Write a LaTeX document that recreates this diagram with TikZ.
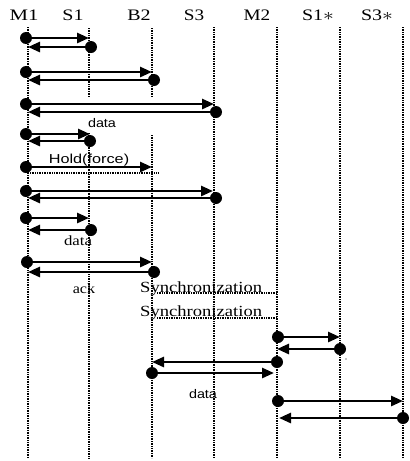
\documentclass[tikz,border=0pt]{standalone}
\usepackage{fontspec}
\usepackage{graphicx}
\setmainfont{Liberation Serif}
\newfontfamily\sansf{Liberation Sans}
\usetikzlibrary{arrows.meta}
\tikzset{
  life/.style={line width=1.3pt, dash pattern=on 1pt off 0.7pt},
  msg/.style={line width=2.7pt, -{Triangle[length=12pt,width=10pt]}},
  dotn/.style={circle, fill, inner sep=0pt, minimum size=12pt},
  hdr/.style={anchor=base, inner sep=0pt, font=\fontsize{16}{16}\selectfont},
  lbl/.style={anchor=base, inner sep=0pt},
  holdline/.style={line width=1.3pt, dash pattern=on 1pt off 0.7pt},
}
\begin{document}
\begin{tikzpicture}[x=1pt,y=-1pt]
\useasboundingbox[fill=white] (0,0) rectangle (410,461);
% headers
\node[hdr] (hM1) at (24,20) {\scalebox{1.3}[1]{M1}};
\node[hdr] (hS1) at (73,20) {\scalebox{1.25}[1]{S1}};
\node[hdr] (hB2) at (139,20) {\scalebox{1.25}[1]{B2}};
\node[hdr] (hS3) at (194,20) {\scalebox{1.2}[1]{S3}};
\node[hdr] (hM2) at (257,20) {\scalebox{1.2}[1]{M2}};
\node[hdr] (hS1s) at (318,20) {\scalebox{1.25}[1]{S1$*$}};
\node[hdr] (hS3s) at (377,20) {\scalebox{1.25}[1]{S3$*$}};
% lifelines
\coordinate (M1t) at (28,27);   \coordinate (M1b) at (28,458);
\coordinate (S1t) at (89,28);   \coordinate (S1g) at (89,97);
\coordinate (S1h) at (89,133);  \coordinate (S1b) at (89,458);
\coordinate (B2t) at (152,28);  \coordinate (B2g) at (152,97);
\coordinate (B2h) at (152,135); \coordinate (B2b) at (152,458);
\coordinate (S3t) at (214,27);  \coordinate (S3b) at (214,458);
\coordinate (M2t) at (277,27);  \coordinate (M2b) at (277,458);
\coordinate (S1st) at (340,27); \coordinate (S1sb) at (340,458);
\coordinate (S3st) at (403,27); \coordinate (S3sb) at (403,458);
\draw[life] (M1t) -- (M1b);
\draw[life] (S1t) -- (S1g);
\draw[life] (S1h) -- (S1b);
\draw[life] (B2t) -- (B2g);
\draw[life] (B2h) -- (B2b);
\draw[life] (S3t) -- (S3b);
\draw[life] (M2t) -- (M2b);
\draw[life] (S1st) -- (S1sb);
\draw[life] (S3st) -- (S3sb);
% row 1 M1 <-> S1
\node[dotn] (r1a) at (26,38) {};  \coordinate (r1ae) at (89,38);
\node[dotn] (r1b) at (91,47) {};  \coordinate (r1be) at (28,47);
\draw[msg] (r1a) -- (r1ae);
\draw[msg] (r1b) -- (r1be);
% row 2 M1 <-> B2
\node[dotn] (r2a) at (26,72) {};  \coordinate (r2ae) at (152,72);
\node[dotn] (r2b) at (154,80) {}; \coordinate (r2be) at (28,80);
\draw[msg] (r2a) -- (r2ae);
\draw[msg] (r2b) -- (r2be);
% row 3 M1 <-> S3
\node[dotn] (r3a) at (26,104) {}; \coordinate (r3ae) at (214,104);
\node[dotn] (r3b) at (216,112) {};\coordinate (r3be) at (28,112);
\draw[msg] (r3a) -- (r3ae);
\draw[msg] (r3b) -- (r3be);
\node[lbl, font=\sansf\fontsize{12.5}{12.5}\selectfont] (d1) at (102,127) {\scalebox{1.15}[1]{data}};
% row 4 M1 <-> S1
\node[dotn] (r4a) at (26,134) {}; \coordinate (r4ae) at (90,134);
\node[dotn] (r4b) at (90,141) {}; \coordinate (r4be) at (28,141);
\draw[msg] (r4a) -- (r4ae);
\draw[msg] (r4b) -- (r4be);
% row 5 Hold(force)
\node[lbl, font=\sansf\fontsize{13}{13}\selectfont] (hold) at (89,163) {\scalebox{1.25}[1]{Hold(force)}};
\node[dotn] (r5a) at (26,167) {}; \coordinate (r5ae) at (152,167);
\draw[msg] (r5a) -- (r5ae);
\coordinate (h1) at (30,173); \coordinate (h2) at (158,173);
\draw[holdline] (h1) -- (h2);
% row 6 M1 <-> S3
\node[dotn] (r6a) at (26,191) {}; \coordinate (r6ae) at (213,191);
\node[dotn] (r6b) at (216,198) {};\coordinate (r6be) at (28,198);
\draw[msg] (r6a) -- (r6ae);
\draw[msg] (r6b) -- (r6be);
% row 7 M1 <-> S1
\node[dotn] (r7a) at (26,218) {}; \coordinate (r7ae) at (89,218);
\node[dotn] (r7b) at (91,230) {}; \coordinate (r7be) at (28,230);
\draw[msg] (r7a) -- (r7ae);
\draw[msg] (r7b) -- (r7be);
\node[lbl, font=\fontsize{14}{14}\selectfont] (d2) at (78,245) {\scalebox{1.2}[1]{data}};
% row 8 M1 <-> B2
\node[dotn] (r8a) at (27,262) {}; \coordinate (r8ae) at (152,262);
\node[dotn] (r8b) at (154,272) {};\coordinate (r8be) at (28,272);
\draw[msg] (r8a) -- (r8ae);
\draw[msg] (r8b) -- (r8be);
\node[lbl, font=\fontsize{14}{14}\selectfont] (ack) at (84,293) {\scalebox{1.15}[1]{ack}};
% synchronization
\node[lbl, anchor=base west, font=\fontsize{15.5}{15.5}\selectfont] (sy1) at (140,292) {\scalebox{1.2}[1]{Synchronization}};
\coordinate (s1a) at (157,293); \coordinate (s1b) at (277,293);
\draw[holdline] (s1a) -- (s1b);
\node[lbl, anchor=base west, font=\fontsize{15.5}{15.5}\selectfont] (sy2) at (140,316) {\scalebox{1.2}[1]{Synchronization}};
\coordinate (s2a) at (157,318); \coordinate (s2b) at (277,318);
\draw[holdline] (s2a) -- (s2b);
% row 9 M2 <-> S1*
\node[dotn] (r9a) at (278,337) {}; \coordinate (r9ae) at (340,337);
\node[dotn] (r9b) at (340,349) {}; \coordinate (r9be) at (277,349);
\draw[msg] (r9a) -- (r9ae);
\draw[msg] (r9b) -- (r9be);
\fill (346,359) circle (0.7pt);
% row 10 M2 <-> B2
\node[dotn] (r10a) at (277,362) {}; \coordinate (r10ae) at (152,362);
\node[dotn] (r10b) at (152,373) {}; \coordinate (r10be) at (274,373);
\draw[msg] (r10a) -- (r10ae);
\draw[msg] (r10b) -- (r10be);
\node[lbl, font=\sansf\fontsize{12.5}{12.5}\selectfont] (d3) at (203,398) {\scalebox{1.15}[1]{data}};
% row 11 M2 <-> S3*
\node[dotn] (r11a) at (278,401) {}; \coordinate (r11ae) at (403,401);
\node[dotn] (r11b) at (403,418) {}; \coordinate (r11be) at (279,418);
\draw[msg] (r11a) -- (r11ae);
\draw[msg] (r11b) -- (r11be);
\end{tikzpicture}
\end{document}
